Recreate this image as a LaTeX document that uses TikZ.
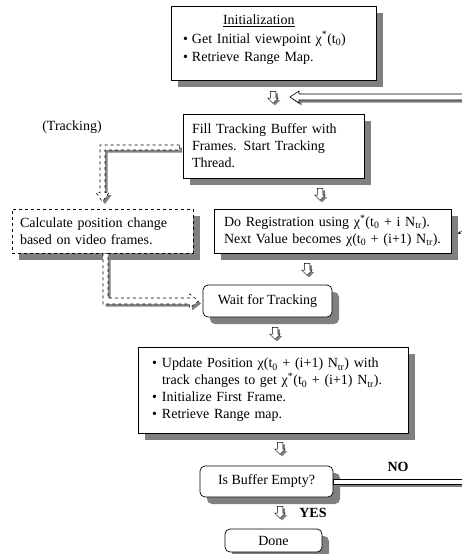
\documentclass[tikz,border=0pt]{standalone}
\usepackage{fontspec}
\setmainfont{Liberation Serif}
\usetikzlibrary{shapes.arrows, shadows, calc, arrows.meta}

\begin{document}
\begin{tikzpicture}[x=1pt, y=-1pt,
    font=\fontsize{14}{17}\selectfont,
    stepbox/.style={draw, fill=white, line width=0.7pt, inner xsep=9pt, inner ysep=0pt, align=left,
        drop shadow={shadow xshift=7pt, shadow yshift=-7pt, fill=black!50, opacity=1}},
    roundbox/.style={stepbox, rounded corners=5pt, align=center},
    downarrow/.style={single arrow, draw, fill=white, line width=0.5pt, shape border rotate=270,
        inner sep=2.5pt, minimum height=12pt, minimum width=10pt, single arrow head extend=2.5pt,
        drop shadow={shadow xshift=2pt, shadow yshift=-2pt, fill=black!50, opacity=1}},
    fatarrow/.style={draw, fill=white, line width=0.6pt,
        preaction={draw=none, fill=black!50, transform canvas={xshift=2.5pt, yshift=-2.5pt}}},
    tag/.style={font=\fontsize{14}{17}\selectfont\bfseries}]
    \useasboundingbox (0,0) rectangle (461,554);

    % Initialization
    \node[stepbox, minimum width=205, minimum height=74, inner xsep=12pt, text width=181pt, font=\fontsize{14}{18.5}\selectfont] (init) at (273.5,43) {\parbox[c][56pt][t]{181pt}{\hspace*{40pt}\underline{Initialization}\\ \makebox[9pt][l]{\textbullet}Get Initial viewpoint χ\textsuperscript{*}(t\textsubscript{0})\\ \makebox[9pt][l]{\textbullet}Retrieve Range Map.}};

    % Tracking side
    \node (trk) at (72,127) {(Tracking)};
    \node[stepbox, minimum width=181, minimum height=64, text width=163pt] (fill) at (273.5,146) {Fill Tracking Buffer with\\ Frames. Start Tracking\\ Thread.};
    \node[stepbox, dashed, minimum width=181, minimum height=44, inner xsep=8pt, text width=165pt] (calc) at (102.5,231) {Calculate position change\\ based on video frames.};
    \node[stepbox, minimum width=237, minimum height=44, inner xsep=10pt, text width=217pt] (reg) at (332.5,231) {Do Registration using χ\textsuperscript{*}(t\textsubscript{0} + i N\textsubscript{tr}).\\ Next Value becomes χ(t\textsubscript{0} + (i+1) N\textsubscript{tr}).};
    \node[roundbox, minimum width=129, minimum height=32] (wait) at (267.5,301) {Wait for Tracking};

    % Update and loop test
    \node[stepbox, minimum width=270, minimum height=86, inner xsep=14pt, text width=242pt] (upd) at (273,390) {\makebox[10pt][l]{\textbullet}Update Position χ(t\textsubscript{0} + (i+1) N\textsubscript{tr}) with\\ \hspace*{10pt}track changes to get χ\textsuperscript{*}(t\textsubscript{0} + (i+1) N\textsubscript{tr}).\\ \makebox[10pt][l]{\textbullet}Initialize First Frame.\\ \makebox[10pt][l]{\textbullet}Retrieve Range map.};
    \node[roundbox, minimum width=133, minimum height=31] (empty) at (266.5,481.5) {Is Buffer Empty?};
    \node[roundbox, minimum width=97, minimum height=23] (done) at (273.5,540.5) {Done};
    \node[tag] (no) at (398,467) {NO};
    \node[tag] (yes) at (313,513) {YES};

    % Small arrows
    \node[downarrow] (a1) at (273,96) {};
    \node[downarrow] (a2) at (320,193) {};
    \node[downarrow] (a3) at (307,268) {};
    \node[downarrow] (a4) at (275,332) {};
    \node[downarrow] (a5) at (280,447) {};
    \node[downarrow] (a6) at (280,511) {};

    % Loop back arrows
    \coordinate (ret) at (290,97);
    \coordinate (edge) at (463,97);
    \coordinate (nobranch) at (463,481.5);
    \draw[fatarrow] ($(edge)+(0,-3)$) -- ($(ret)+(9,-3)$) -- ($(ret)+(9,-6)$) -- (ret) -- ($(ret)+(9,6)$) -- ($(ret)+(9,3)$) -- ($(edge)+(0,3)$) -- cycle;
    \draw[fatarrow] ($(empty.east)+(0,-2.5)$) rectangle ($(nobranch)+(0,2.5)$);
    \draw[-{Stealth[length=3pt, width=3pt]}, line width=0.4pt] (463,230) -- (458,234);

    % Tracking thread
    \draw[fatarrow, dashed] ($(fill.west)+(-3,-1)$) -- ($(calc.north |- fill.west)+(-2.5,-1)$) -- ($(calc.north)+(-2.5,-16)$) -- ($(calc.north)+(-6.5,-16)$) -- ($(calc.north)+(0,-7)$) -- ($(calc.north)+(6.5,-16)$) -- ($(calc.north)+(2.5,-16)$) -- ($(calc.north |- fill.west)+(2.5,4)$) -- ($(fill.west)+(-3,4)$) -- cycle;
    \draw[fatarrow, dashed] ($(calc.south)+(0.5,0)$) -- ($(calc.south |- wait.west)+(0.5,3)$) -- ($(wait.west)+(-13,3)$) -- ($(wait.west)+(-13,7)$) -- ($(wait.west)+(-4,0)$) -- ($(wait.west)+(-13,-7)$) -- ($(wait.west)+(-13,-3)$) -- ($(calc.south |- wait.west)+(5.5,-3)$) -- ($(calc.south)+(5.5,0)$) -- cycle;
\end{tikzpicture}
\end{document}
